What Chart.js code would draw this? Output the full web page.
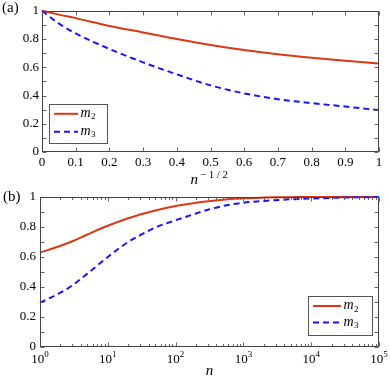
<!DOCTYPE html>
<html lang="en">
<head>
<meta charset="UTF-8">
<title>m2 and m3 against n</title>
<script src="https://cdn.jsdelivr.net/npm/chart.js"></script>
<style>
  body { margin: 0; background: #ffffff; }
  #wrap { position: relative; width: 390px; height: 385px; }
  canvas { position: absolute; left: 0; }
  #chartA { top: 0; }
  #chartB { top: 185px; }
</style>
</head>
<body>
<div id="wrap">
  <canvas id="chartA" width="390" height="190"></canvas>
  <canvas id="chartB" width="390" height="200"></canvas>
</div>
<script>
// panel (a): x = n^(-1/2)
const xA = [0, 0.05, 0.1, 0.2, 0.3, 0.4, 0.5, 0.6, 0.7, 0.8, 0.9, 1];
const m2A = [1, 0.973, 0.948, 0.893, 0.847, 0.8, 0.758, 0.722, 0.692, 0.668, 0.647, 0.626];
const m3A = [1, 0.91, 0.84, 0.73, 0.635, 0.55, 0.472, 0.415, 0.374, 0.346, 0.322, 0.296];

// panel (b): x = n, log axis
const nB = [1, 2, 3, 5, 10, 20, 30, 50, 100, 200, 300, 500, 1000, 2000, 3000, 5000, 10000, 30000, 100000];
const m2B = [0.629, 0.675, 0.705, 0.75, 0.808, 0.858, 0.883, 0.91, 0.94, 0.962, 0.972, 0.982, 0.991, 0.996, 0.998, 0.999, 1, 1, 1];
const m3B = [0.296, 0.362, 0.411, 0.489, 0.6, 0.7, 0.745, 0.796, 0.845, 0.89, 0.915, 0.94, 0.962, 0.974, 0.979, 0.985, 0.99, 0.996, 1];

const seriesNames = ['m_2', 'm_3'];
const decades = [0, 1, 2, 3, 4, 5];

const SERIF = "'Liberation Serif', 'DejaVu Serif', serif";
const INK = '#000000';
const RED = '#dc3814';
const BLUE = '#1414ff';

function pts(xs, ys) {
    return xs.map((x, i) => ({ x: x, y: ys[i] }));
}

function makeSets(xs, a, b) {
    return [
        { label: seriesNames[0], data: pts(xs, a), borderColor: RED, borderWidth: 2, order: 1 },
        { label: seriesNames[1], data: pts(xs, b), borderColor: BLUE, borderWidth: 2, borderDash: [6, 4], order: 0 }
    ];
}

// label like "m_2": italic base, upright subscript
function mathLabel(ctx, text, x, y) {
    const [base, sub] = text.split('_');
    ctx.fillStyle = INK;
    ctx.textAlign = 'left';
    ctx.textBaseline = 'alphabetic';
    ctx.font = 'italic 14px ' + SERIF;
    ctx.fillText(base, x, y + 3);
    const w = ctx.measureText(base).width;
    if (sub) {
        ctx.font = '9px ' + SERIF;
        ctx.fillText(sub, x + w + 0.5, y + 5.5);
    }
}

function isDecade(v) {
    const l = Math.log10(v);
    return Math.abs(l - Math.round(l)) < 1e-9;
}

const framePlugin = {
    id: 'frame',
    afterDatasetsDraw(chart, args, o) {
        const ctx = chart.ctx;
        const a = chart.chartArea;
        const xs = chart.scales.x;
        const ys = chart.scales.y;
        const L = Math.round(a.left) + 0.5, R = Math.round(a.right) - 0.5;
        const T = Math.round(a.top) + 0.5, B = Math.round(a.bottom) - 0.5;
        ctx.save();

        // inward ticks on all four sides
        ctx.strokeStyle = '#666';
        ctx.lineWidth = 1;
        ctx.setLineDash([]);
        ctx.beginPath();
        let xTicks;
        if (o.logX) {
            xTicks = [];
            decades.slice(0, -1).forEach(d => {
                for (let m = 1; m < 10; m++) xTicks.push(m * Math.pow(10, d));
            });
            xTicks.push(Math.pow(10, decades[decades.length - 1]));
        } else {
            xTicks = xs.ticks.map(t => t.value);
        }
        xTicks.forEach(v => {
            const px = Math.round(xs.getPixelForValue(v)) + 0.5;
            const len = o.logX && !isDecade(v) ? 2.5 : 4;
            ctx.moveTo(px, B); ctx.lineTo(px, B - len);
            ctx.moveTo(px, T); ctx.lineTo(px, T + len);
        });
        ys.ticks.forEach(t => {
            const py = Math.round(ys.getPixelForValue(t.value)) + 0.5;
            ctx.moveTo(L, py); ctx.lineTo(L + 4, py);
            ctx.moveTo(R, py); ctx.lineTo(R - 4, py);
        });
        ctx.stroke();

        // box
        ctx.strokeStyle = '#444';
        ctx.strokeRect(L, T, R - L, B - T);

        ctx.fillStyle = INK;
        // log tick labels 10^k
        if (o.logX) {
            decades.forEach(d => {
                const px = xs.getPixelForValue(Math.pow(10, d));
                ctx.font = '13px ' + SERIF;
                const w1 = ctx.measureText('10').width;
                ctx.font = '9px ' + SERIF;
                const w2 = ctx.measureText(String(d)).width;
                const x0 = px - (w1 + w2) / 2;
                ctx.textAlign = 'left';
                ctx.textBaseline = 'alphabetic';
                ctx.font = '13px ' + SERIF;
                ctx.fillText('10', x0, a.bottom + 15.5);
                ctx.font = '9px ' + SERIF;
                ctx.fillText(String(d), x0 + w1, a.bottom + 9.5);
            });
        }

        // axis title
        const tb = a.bottom + o.titleDy;
        ctx.textAlign = 'left';
        ctx.textBaseline = 'alphabetic';
        ctx.font = 'italic 15px ' + SERIF;
        const wb = ctx.measureText(o.title[0]).width;
        let ws = 0;
        if (o.title[1]) {
            ctx.font = '11px ' + SERIF;
            ctx.letterSpacing = '2.5px';
            ws = ctx.measureText(o.title[1]).width + 2;
        }
        const tx = (a.left + a.right) / 2 - (wb + ws) / 2;
        ctx.font = 'italic 15px ' + SERIF;
        ctx.letterSpacing = '0px';
        ctx.fillText(o.title[0], tx, tb);
        if (o.title[1]) {
            ctx.font = '11px ' + SERIF;
            ctx.letterSpacing = '2.5px';
            ctx.fillText(o.title[1], tx + wb + 2, tb - 5.5);
            ctx.letterSpacing = '0px';
        }

        // panel label
        ctx.font = '15px ' + SERIF;
        ctx.fillText(o.panel[0], o.panel[1], o.panel[2]);

        // legend
        const lb = o.legend;
        const bx = lb.right ? a.right - lb.right : a.left + lb.left;
        const by = a.top + lb.top;
        ctx.fillStyle = '#ffffff';
        ctx.fillRect(bx, by, lb.w, lb.h);
        ctx.strokeStyle = '#555';
        ctx.strokeRect(Math.round(bx) + 0.5, Math.round(by) + 0.5, lb.w, lb.h);
        chart.data.datasets.forEach((ds, i) => {
            const y = by + lb.rows[i];
            ctx.strokeStyle = ds.borderColor;
            ctx.lineWidth = ds.borderWidth;
            ctx.setLineDash(ds.borderDash || []);
            ctx.beginPath();
            ctx.moveTo(bx + 5, y);
            ctx.lineTo(bx + 5 + lb.len, y);
            ctx.stroke();
            ctx.setLineDash([]);
            mathLabel(ctx, ds.label, bx + 7.5 + lb.len, y);
        });
        ctx.restore();
    }
};

function baseOptions(extra) {
    return {
        responsive: false,
        animation: false,
        layout: { padding: extra.padding },
        elements: {
            point: { radius: 0, hoverRadius: 0 },
            line: { cubicInterpolationMode: 'monotone', borderCapStyle: 'butt' }
        },
        datasets: { line: { clip: 3 } },
        plugins: {
            legend: { display: false },
            tooltip: { enabled: false },
            frame: extra.frame
        },
        scales: {
            x: extra.x,
            y: {
                type: 'linear',
                min: 0,
                max: 1,
                grid: { display: false, drawTicks: false },
                border: { display: false },
                ticks: {
                    stepSize: 0.1,
                    autoSkip: false,
                    padding: extra.yPad,
                    color: INK,
                    font: { family: SERIF, size: 13 },
                    callback: v => (Math.round(v * 10) % 2 === 0 ? String(+v.toFixed(1)) : '')
                },
                afterFit: s => { s.width = extra.yWidth; }
            }
        }
    };
}

function drawCharts() {
    new Chart(document.getElementById('chartA'), {
        type: 'line',
        data: { datasets: makeSets(xA, m2A, m3A) },
        options: baseOptions({
            padding: { top: 7, right: 11, left: 0, bottom: 0 },
            yWidth: 42,
            yPad: 3,
            x: {
                type: 'linear',
                min: 0,
                max: 1,
                grid: { display: false, drawTicks: false },
                border: { display: false },
                ticks: {
                    stepSize: 0.1,
                    autoSkip: false,
                    maxRotation: 0,
                    padding: 3,
                    color: INK,
                    font: { family: SERIF, size: 13 },
                    callback: v => String(+v.toFixed(1))
                },
                afterFit: s => { s.height = 38; }
            },
            frame: {
                logX: false,
                title: ['n', '\u22121/2'],
                titleDy: 31.5,
                panel: ['(a)', 2, 12],
                legend: { left: 7, top: 93, w: 58, h: 39, len: 24, rows: [10, 28] }
            }
        }),
        plugins: [framePlugin]
    });

    new Chart(document.getElementById('chartB'), {
        type: 'line',
        data: { datasets: makeSets(nB, m2B, m3B) },
        options: baseOptions({
            padding: { top: 12, right: 11, left: 0, bottom: 0 },
            yWidth: 40,
            yPad: 4,
            x: {
                type: 'logarithmic',
                min: 1,
                max: 100000,
                grid: { display: false, drawTicks: false },
                border: { display: false },
                ticks: { display: false },
                afterFit: s => { s.height = 38; }
            },
            frame: {
                logX: true,
                title: ['n', ''],
                titleDy: 28,
                panel: ['(b)', 3, 16],
                legend: { right: 71, top: 99, w: 64, h: 39, len: 28, rows: [10, 26.5] }
            }
        }),
        plugins: [framePlugin]
    });
}

// make sure the serif face is ready before the canvases draw text
Promise.all([
    document.fonts.load("13px 'Liberation Serif'"),
    document.fonts.load("italic 15px 'Liberation Serif'")
]).then(drawCharts, drawCharts);
</script>
</body>
</html>
